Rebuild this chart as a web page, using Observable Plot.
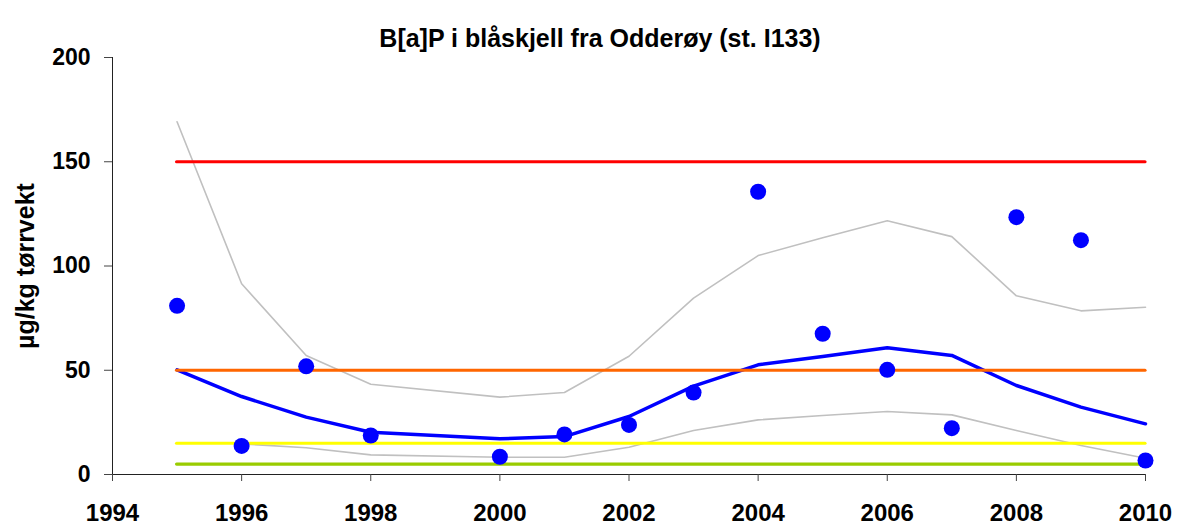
<!DOCTYPE html>
<html>
<head>
<meta charset="utf-8">
<script src="https://cdn.jsdelivr.net/npm/d3@7"></script>
<script src="https://cdn.jsdelivr.net/npm/@observablehq/plot@0.6"></script>
<style>
  html, body { margin: 0; padding: 0; background: #fff; }
  #chart svg { display: block; }
</style>
</head>
<body>
<div id="chart"></div>
<script>
// ---- data ----
const titleText = "B[a]P i blåskjell fra Odderøy (st. I133)";
const yLabel = "µg/kg tørrvekt";

const years    = [1995, 1996, 1997, 1998, 2000, 2001, 2002, 2003, 2004, 2005, 2006, 2007, 2008, 2009, 2010];
const measured = [80.9, 13.7, 51.9, 18.7, 8.5, 19.2, 23.8, 39.3, 135.6, 67.5, 50.2, 22.2, 123.4, 112.4, 6.7];
const trend    = [50.2, 37.4, 27.5, 20.3, 17.1, 18.2, 27.8, 42.4, 52.6, 56.6, 60.8, 57.1, 42.7, 32.3, 24.3];
const upper    = [169.2, 91.5, 57.1, 43.3, 37.1, 39.3, 56.7, 84.6, 105.0, 113.5, 121.7, 114.1, 85.7, 78.5, 80.2];
const lower    = [null, 14.7, 12.8, 9.4, 8.3, 8.3, 13.1, 21.1, 26.2, 28.3, 30.2, 28.6, 21.1, 13.9, 7.8];

const limitValues = [150, 50, 15, 5];
const limitColors = ["#ff0000", "#ff6600", "#ffff00", "#99cc00"];
const limitStart = 1995, limitEnd = 2010;

const xTicks = [1994, 1996, 1998, 2000, 2002, 2004, 2006, 2008, 2010];
const yTicks = [0, 50, 100, 150, 200];

// ---- tables built from the arrays ----
const rows = years.map((yr, i) => ({year: yr, measured: measured[i], trend: trend[i], upper: upper[i], lower: lower[i]}));
const limits = limitValues.map((v, i) => ({value: v, color: limitColors[i]}));

const font = "'Liberation Sans', Arial, sans-serif";

const chart = Plot.plot({
  width: 1177,
  height: 527,
  marginLeft: 112,
  marginRight: 32,
  marginTop: 57,
  marginBottom: 53,
  style: {fontFamily: font, background: "#fff", color: "#000"},
  x: {domain: [1994, 2010]},
  y: {domain: [0, 200]},
  marks: [
    // gray band lines
    Plot.line(rows, {x: "year", y: "upper", stroke: "#c0c0c0", strokeWidth: 1.6}),
    Plot.line(rows.filter(d => d.lower != null), {x: "year", y: "lower", stroke: "#c0c0c0", strokeWidth: 1.6}),
    // trend
    Plot.line(rows, {x: "year", y: "trend", stroke: "#0000ff", strokeWidth: 3.5, strokeLinejoin: "round"}),
    // class limits
    Plot.ruleY(limits, {y: "value", x1: limitStart, x2: limitEnd, stroke: "color", strokeWidth: 3.2, strokeLinecap: "round"}),
    // measurements
    Plot.dot(rows, {x: "year", y: "measured", r: 8, fill: "#0000ff", stroke: null}),
    // axes
    Plot.ruleX([1994], {y1: 0, y2: 200, stroke: "#222", strokeWidth: 1}),
    Plot.ruleY([0], {x1: 1994, x2: 2010, stroke: "#222", strokeWidth: 1}),
    Plot.axisX({ticks: xTicks, tickFormat: d => String(d), tickSize: 7, tickPadding: 22, fontSize: 24, fontWeight: "bold", stroke: "#444", label: null}),
    Plot.axisY({ticks: yTicks, tickSize: 8, tickPadding: 14, fontSize: 23, fontWeight: "bold", stroke: "#444", label: null}),
    // y label
    Plot.text([yLabel], {frameAnchor: "left", dx: -87, rotate: -90, fontSize: 25, fontWeight: "bold", fill: "#000", textAnchor: "middle"}),
    // title
    Plot.text([titleText], {frameAnchor: "top", dy: -28, dx: -29, fontSize: 25, fontWeight: "bold", fill: "#000"})
  ]
});
document.getElementById("chart").appendChild(chart);
</script>
</body>
</html>
